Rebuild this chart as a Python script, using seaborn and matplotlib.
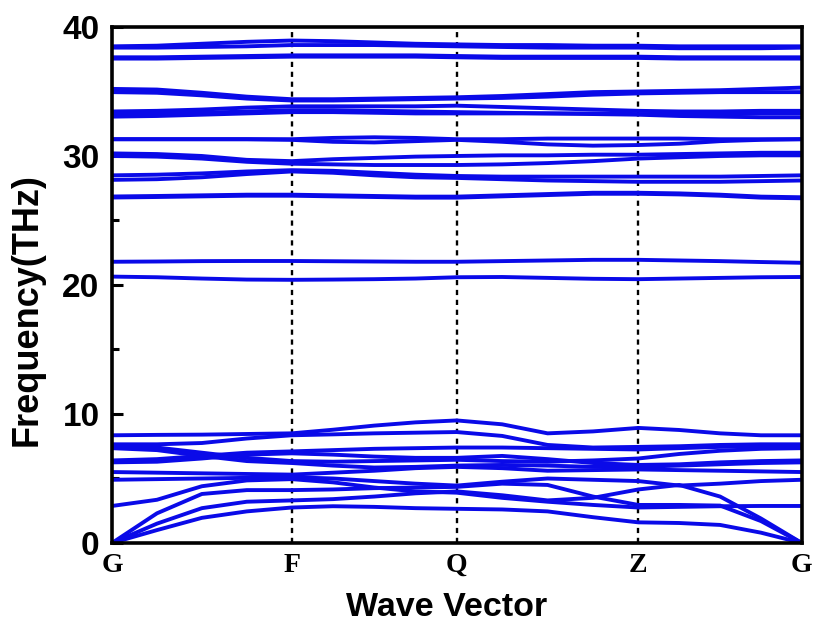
import numpy as np
import pandas as pd
import matplotlib
matplotlib.use("Agg")
import matplotlib.pyplot as plt
import seaborn as sns

# High-symmetry path and its labels (path length, normalised)
k_nodes = [0.0, 0.2606, 0.4998, 0.7631, 1.0]
k_labels = ["G", "F", "Q", "Z", "G"]

# Each band is sampled at the nodes and at quarter points of every segment
# (17 samples along the path), frequencies in THz.
a1 = [0, 1.0, 1.95, 2.45, 2.75, 2.85, 2.8, 2.7, 2.65, 2.6, 2.45, 2.0, 1.6, 1.55, 1.4, 0.8, 0]
a2 = [0, 1.5, 2.7, 3.2, 3.3, 3.4, 3.6, 3.85, 4.0, 3.7, 3.3, 3.5, 4.15, 4.5, 3.6, 1.9, 0]
a3 = [0, 2.3, 3.8, 4.1, 4.1, 4.15, 4.25, 4.3, 4.35, 4.6, 4.5, 3.6, 2.95, 2.95, 2.9, 1.7, 0]
o1 = [2.87, 3.35, 4.4, 4.85, 4.95, 4.7, 4.3, 4.0, 3.9, 3.5, 3.2, 2.95, 2.75, 2.8, 2.85, 2.87, 2.87]
o2 = [4.9, 4.95, 5.0, 5.05, 5.1, 5.0, 4.8, 4.6, 4.45, 4.75, 5.0, 4.9, 4.8, 4.45, 4.6, 4.8, 4.9]
o3 = [5.5, 5.45, 5.4, 5.35, 5.3, 5.45, 5.6, 5.8, 5.9, 5.8, 5.6, 5.65, 5.7, 5.65, 5.6, 5.55, 5.5]
o4 = [6.25, 6.3, 6.55, 6.85, 6.95, 6.85, 6.7, 6.6, 6.6, 6.75, 6.5, 6.2, 6.05, 6.1, 6.25, 6.35, 6.4]
o5 = [6.4, 6.5, 6.75, 7.0, 7.1, 7.2, 7.3, 7.35, 7.4, 7.4, 7.35, 7.3, 7.25, 7.35, 7.45, 7.5, 7.5]
o6 = [7.35, 7.2, 6.75, 6.35, 6.2, 6.0, 5.85, 5.9, 6.0, 6.05, 6.0, 5.9, 5.9, 6.0, 6.1, 6.2, 6.25]
o7 = [7.5, 7.4, 7.0, 6.6, 6.35, 6.3, 6.35, 6.4, 6.45, 6.35, 6.3, 6.4, 6.55, 6.9, 7.15, 7.3, 7.35]
o8 = [7.65, 7.65, 7.75, 8.1, 8.35, 8.42, 8.5, 8.55, 8.6, 8.3, 7.6, 7.4, 7.45, 7.5, 7.6, 7.65, 7.65]
o9 = [8.35, 8.38, 8.4, 8.45, 8.5, 8.78, 9.1, 9.35, 9.5, 9.2, 8.5, 8.65, 8.92, 8.76, 8.5, 8.35, 8.35]

h01 = [20.65, 20.6, 20.5, 20.42, 20.4, 20.42, 20.45, 20.5, 20.6, 20.62, 20.55, 20.48, 20.45, 20.5, 20.55, 20.6, 20.62]
h02 = [21.8, 21.82, 21.85, 21.86, 21.86, 21.84, 21.82, 21.8, 21.8, 21.85, 21.9, 21.95, 21.95, 21.9, 21.85, 21.78, 21.72]
h03 = [26.78, 26.82, 26.87, 26.92, 26.92, 26.87, 26.82, 26.77, 26.77, 26.87, 26.97, 27.07, 27.07, 27.02, 26.92, 26.77, 26.72]
h04 = [26.86, 26.9, 26.95, 27.0, 27.0, 26.95, 26.9, 26.85, 26.85, 26.95, 27.05, 27.15, 27.15, 27.1, 27.0, 26.85, 26.8]
h05 = [28.15, 28.2, 28.35, 28.6, 28.8, 28.7, 28.5, 28.35, 28.3, 28.2, 28.1, 28.05, 28.0, 28.0, 28.0, 28.05, 28.1]
h06 = [28.5, 28.55, 28.65, 28.8, 28.9, 28.85, 28.7, 28.55, 28.45, 28.4, 28.4, 28.4, 28.4, 28.4, 28.4, 28.45, 28.5]
h07 = [30.0, 29.95, 29.8, 29.55, 29.4, 29.35, 29.3, 29.3, 29.3, 29.35, 29.45, 29.6, 29.8, 29.9, 30.0, 30.05, 30.05]
h08 = [30.2, 30.15, 30.0, 29.7, 29.6, 29.75, 29.85, 29.95, 30.0, 30.05, 30.05, 30.1, 30.1, 30.15, 30.2, 30.25, 30.25]
h09 = [31.3, 31.3, 31.3, 31.3, 31.25, 31.1, 31.05, 31.15, 31.25, 31.1, 30.9, 30.8, 30.85, 30.95, 31.15, 31.25, 31.3]
h10 = [31.3, 31.3, 31.3, 31.3, 31.3, 31.4, 31.45, 31.4, 31.3, 31.3, 31.35, 31.35, 31.35, 31.35, 31.3, 31.3, 31.3]
h11 = [33.05, 33.1, 33.2, 33.3, 33.4, 33.4, 33.35, 33.3, 33.3, 33.3, 33.3, 33.25, 33.2, 33.1, 33.05, 33.0, 33.0]
h12 = [33.3, 33.3, 33.35, 33.45, 33.55, 33.55, 33.5, 33.45, 33.4, 33.35, 33.3, 33.3, 33.25, 33.25, 33.25, 33.3, 33.3]
h13 = [33.45, 33.5, 33.6, 33.75, 33.85, 33.85, 33.85, 33.85, 33.9, 33.8, 33.7, 33.6, 33.5, 33.45, 33.45, 33.5, 33.5]
h14 = [34.95, 34.9, 34.7, 34.45, 34.3, 34.3, 34.35, 34.4, 34.45, 34.5, 34.6, 34.75, 34.85, 34.9, 34.95, 34.95, 34.95]
h15 = [35.2, 35.15, 34.9, 34.6, 34.4, 34.4, 34.45, 34.5, 34.55, 34.65, 34.8, 34.95, 35.0, 35.05, 35.1, 35.2, 35.3]
h16 = [37.55, 37.55, 37.6, 37.65, 37.7, 37.7, 37.7, 37.7, 37.65, 37.6, 37.6, 37.6, 37.6, 37.55, 37.55, 37.55, 37.55]
h17 = [37.65, 37.65, 37.7, 37.75, 37.8, 37.8, 37.8, 37.8, 37.75, 37.7, 37.7, 37.7, 37.7, 37.65, 37.65, 37.65, 37.65]
h18 = [38.4, 38.4, 38.45, 38.5, 38.6, 38.6, 38.6, 38.55, 38.5, 38.45, 38.4, 38.4, 38.4, 38.35, 38.35, 38.35, 38.4]
h19 = [38.5, 38.55, 38.7, 38.85, 38.95, 38.9, 38.8, 38.7, 38.65, 38.6, 38.6, 38.55, 38.55, 38.5, 38.5, 38.5, 38.5]

bands = {
    "a1": a1, "a2": a2, "a3": a3, "o1": o1, "o2": o2, "o3": o3, "o4": o4,
    "o5": o5, "o6": o6, "o7": o7, "o8": o8, "o9": o9,
    "h01": h01, "h02": h02, "h03": h03, "h04": h04, "h05": h05, "h06": h06,
    "h07": h07, "h08": h08, "h09": h09, "h10": h10, "h11": h11, "h12": h12,
    "h13": h13, "h14": h14, "h15": h15, "h16": h16, "h17": h17, "h18": h18,
    "h19": h19,
}

# k coordinate of each sample: quarter points along every segment
k_samples = [k_nodes[0]]
for k0, k1 in zip(k_nodes[:-1], k_nodes[1:]):
    k_samples += list(np.linspace(k0, k1, 5)[1:])
k_samples = np.array(k_samples)

df = pd.concat(
    [pd.DataFrame({"k": k_samples, "freq": v, "band": name}) for name, v in bands.items()],
    ignore_index=True,
)

sns.set_theme(style="white")
plt.rcParams["font.family"] = ["Liberation Sans", "DejaVu Sans"]
plt.rcParams.update({
    "text.color": "black",
    "axes.labelcolor": "black",
    "xtick.color": "black",
    "ytick.color": "black",
})

fig = plt.figure(figsize=(8.14, 6.26), dpi=100)
ax = fig.add_axes([0.1376, 0.1326, 0.8474, 0.8243])

sns.lineplot(data=df, x="k", y="freq", units="band", estimator=None, sort=False,
             color="#0A0AE8", lw=2.8, ax=ax)

for k in k_nodes[1:-1]:
    ax.axvline(k, color="black", lw=1.7, ls=(0, (2.2, 2.0)), zorder=0)

ax.set_xlim(k_nodes[0], k_nodes[-1])
ax.set_ylim(0, 40)
ax.set_xticks(k_nodes)
ax.set_xticklabels(k_labels, fontfamily="Liberation Serif", fontweight="bold", fontsize=20)
ax.set_yticks([0, 10, 20, 30, 40])
ax.set_yticks([5, 15, 25, 35], minor=True)
ax.set_yticklabels(["0", "10", "20", "30", "40"], fontweight="bold", fontsize=24)

ax.tick_params(axis="x", length=0, pad=7)
ax.tick_params(axis="y", which="major", direction="in", length=8, width=2.2, left=True, right=False, pad=9)
ax.tick_params(axis="y", which="minor", direction="in", length=5, width=2.2, left=True, right=False)

for sp in ax.spines.values():
    sp.set_linewidth(2.6)
    sp.set_color("black")

ax.set_xlabel("Wave Vector", fontweight="bold", fontsize=24.5)
ax.set_ylabel("Frequency(THz)", fontweight="bold", fontsize=26)
ax.xaxis.set_label_coords(0.485, -0.095)
ax.yaxis.set_label_coords(-0.097, 0.452)

fig.savefig("out.png", dpi=100, facecolor="white")
